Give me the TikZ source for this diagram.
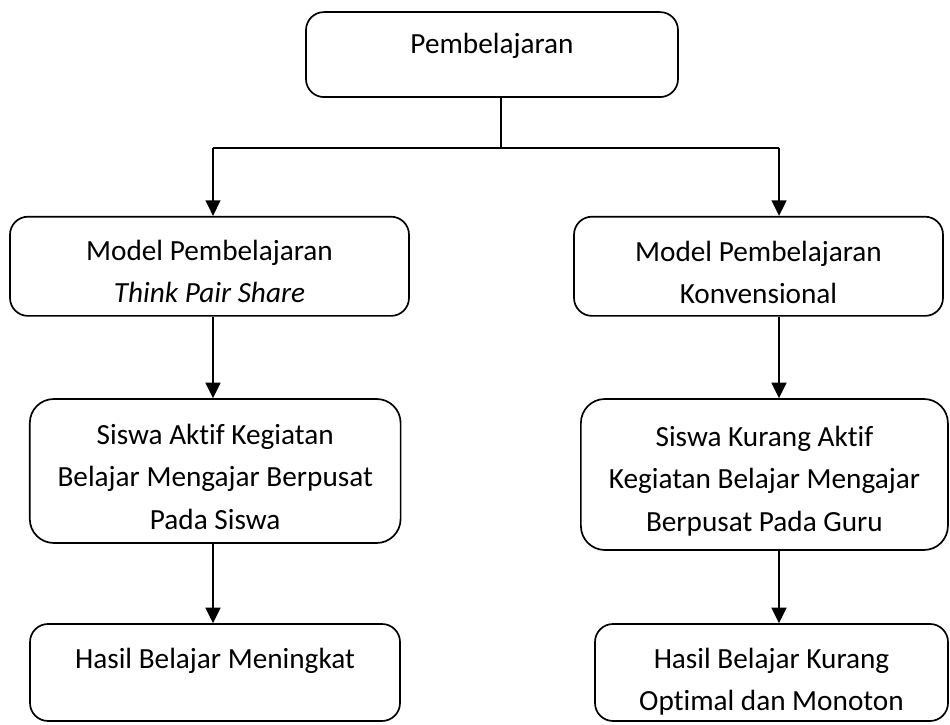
\documentclass[tikz,border=0pt]{standalone}
\usepackage{fontspec}
\setmainfont{Carlito}[Ligatures={NoCommon}]
\usetikzlibrary{positioning,arrows.meta}
\begin{document}
\begin{tikzpicture}
\tikzstyle{box} = [draw, rounded corners=0.45cm, line width=1.2pt, inner sep=0];
\tikzstyle{bigbox} = [box, rounded corners=0.6cm];
\tikzstyle{txt} = [font=\fontsize{20.8}{30}\selectfont, align=center, inner sep=0];
\tikzstyle{line} = [line width=1.4pt];
\tikzstyle{arr} = [line width=1.5pt,-{Triangle[width=10.5pt,length=11pt]}];
\useasboundingbox (0,0) rectangle (23.75,18.125);
\node [box, minimum width=9.3cm, minimum height=2.125cm] (b1) at (12.3,16.76) {};
\node [box, minimum width=9.975cm, minimum height=2.48cm] (b2) at (5.2375,11.4675) {};
\node [box, minimum width=9.225cm, minimum height=2.48cm] (b3) at (18.9625,11.4675) {};
\node [bigbox, minimum width=9.27cm, minimum height=3.6cm] (b4) at (5.38,6.35) {};
\node [bigbox, minimum width=9.175cm, minimum height=3.775cm] (b5) at (19.11,6.2625) {};
\node [box, minimum width=9.25cm, minimum height=2.425cm] (b6) at (5.375,1.3125) {};
\node [box, minimum width=8.825cm, minimum height=2.425cm] (b7) at (19.2875,1.3125) {};

\node [txt, below=0.55cm of b1.north] (t1) {Pembelajaran};
\node [txt, below=0.6cm of b2.north] (t2) {Model Pembelajaran\\\textit{Think Pair Share}};
\node [txt, below=0.62cm of b3.north] (t3) {Model Pembelajaran\\Konvensional};
\node [txt, below=0.65cm of b4.north] (t4) {Siswa Aktif Kegiatan\\Belajar Mengajar Berpusat\\Pada Siswa};
\node [txt, below=0.7cm of b5.north] (t5) {Siswa Kurang Aktif\\Kegiatan Belajar Mengajar\\Berpusat Pada Guru};
\node [txt, below=0.62cm of b6.north] (t6) {Hasil Belajar Meningkat};
\node [txt, below=0.62cm of b7.north] (t7) {Hasil Belajar Kurang\\Optimal dan Monoton};

\coordinate (jc) at (12.525,14.425);
\coordinate (jl) at (5.325,14.425);
\coordinate (jr) at (19.475,14.425);
\draw [line] (b1.south -| jc) -- (jc);
\draw [line] (jl) -- (jr);
\draw [arr] (jl) -- (jl |- b2.north);
\draw [arr] (jr) -- (jr |- b3.north);
\draw [arr] (b2.south -| jl) -- (jl |- b4.north);
\draw [arr] (b3.south -| jr) -- (jr |- b5.north);
\draw [arr] (b4.south -| jl) -- (jl |- b6.north);
\draw [arr] (b5.south -| jr) -- (jr |- b7.north);
\end{tikzpicture}
\end{document}
